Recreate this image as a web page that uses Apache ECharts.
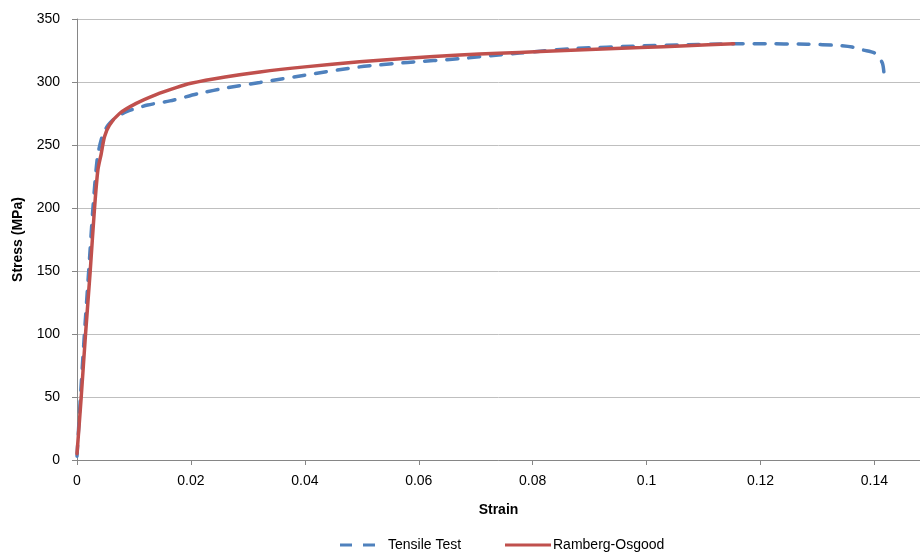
<!DOCTYPE html>
<html>
<head>
<meta charset="utf-8">
<script src="https://cdn.jsdelivr.net/npm/echarts@6/dist/echarts.min.js"></script>
<style>
html,body{margin:0;padding:0;background:#fff;}
#chart{width:920px;height:554px;}
</style>
</head>
<body>
<div id="chart"></div>
<script>
// Tensile Test (strain, stress MPa)
const tensileStrain = [0, 0.0006, 0.0013, 0.0021, 0.0028, 0.0036, 0.0045, 0.0055, 0.0066, 0.0087, 0.0124, 0.0163, 0.0215, 0.0265, 0.0321, 0.0409, 0.0496, 0.0580, 0.0672, 0.0740, 0.0813, 0.0871, 0.0989, 0.1070, 0.1153, 0.1200, 0.1282, 0.1335, 0.1361, 0.1380, 0.1402, 0.1414, 0.1417];
const tensileStress = [3, 50, 100, 153, 200, 240.6, 258, 266, 271, 276.5, 281.7, 285, 291, 295.5, 299.6, 306, 312, 315.5, 318.5, 321.5, 324.4, 326.5, 328.6, 329.6, 330.3, 330.3, 330, 329, 327.7, 325.4, 322.6, 314.9, 305.6];

// Ramberg-Osgood fit (strain, stress MPa)
const roStrain = [0, 0.00074, 0.0015, 0.00232, 0.00308, 0.00366, 0.00425, 0.00483, 0.00571, 0.00747, 0.0104, 0.0139, 0.0174, 0.0200, 0.0260, 0.0321, 0.0400, 0.0496, 0.0580, 0.0672, 0.0740, 0.0813, 0.0900, 0.0989, 0.1070, 0.1153];
const roStress = [5, 50, 100, 150, 200, 230, 243, 256.5, 265.8, 275, 283, 290, 295.5, 299, 304, 308, 312, 316, 318.8, 321.4, 322.8, 324.2, 325.8, 327.3, 328.8, 330.3];

const xTicks = [0, 0.02, 0.04, 0.06, 0.08, 0.1, 0.12, 0.14];
const yTicks = [0, 50, 100, 150, 200, 250, 300, 350];

const seriesNames = ['Tensile Test', 'Ramberg-Osgood'];

const zip = (a, b) => a.map((v, i) => [v, b[i]]);
const FONT = 'Liberation Sans';

const chart = echarts.init(document.getElementById('chart'), null, {renderer: 'canvas'});
chart.setOption({
  animation: false,
  backgroundColor: '#ffffff',
  textStyle: {fontFamily: FONT},
  grid: {left: 77, right: 0, top: 19, bottom: 94, containLabel: false},
  xAxis: {
    type: 'value', min: 0, max: 0.148, interval: 0.02,
    name: 'Strain', nameLocation: 'middle', nameGap: 43,
    nameTextStyle: {fontFamily: FONT, fontSize: 14, fontWeight: 'bold', color: '#000'},
    axisLine: {show: true, lineStyle: {color: '#868686', width: 1}},
    axisTick: {show: true, length: 5, lineStyle: {color: '#868686'}},
    axisLabel: {
      margin: 14, fontSize: 14, color: '#000', fontFamily: FONT, showMaxLabel: false,
      formatter: v => (xTicks.some(t => Math.abs(t - v) < 1e-9) ? String(+v.toFixed(2)) : '')
    },
    splitLine: {show: false}
  },
  yAxis: {
    type: 'value', min: 0, max: 350, interval: 50,
    name: 'Stress (MPa)', nameLocation: 'middle', nameGap: 52, nameRotate: 90,
    nameTextStyle: {fontFamily: FONT, fontSize: 14, fontWeight: 'bold', color: '#000'},
    axisLine: {show: true, lineStyle: {color: '#868686', width: 1}},
    axisTick: {show: true, length: 5, lineStyle: {color: '#868686'}},
    axisLabel: {margin: 17, fontSize: 14, color: '#000', fontFamily: FONT,
      formatter: v => (yTicks.includes(v) ? String(v) : '')},
    splitLine: {show: true, lineStyle: {color: '#bfbfbf', width: 1}}
  },
  legend: [
    {data: [{name: seriesNames[0], icon: 'path://M0,0h12v3h-12z M23,0h12v3h-12z'}],
     left: 335, top: 533, itemWidth: 35, itemHeight: 3.5, itemGap: 10,
     itemStyle: {color: '#4F81BD'},
     textStyle: {fontFamily: FONT, fontSize: 14, color: '#000', padding: [0, 0, 0, 8]}},
    {data: [{name: seriesNames[1], icon: 'path://M0,0h46v3h-46z'}],
     left: 500, top: 533, itemWidth: 46, itemHeight: 3.5, itemGap: 10,
     itemStyle: {color: '#C0504D'},
     textStyle: {fontFamily: FONT, fontSize: 14, color: '#000', padding: [0, 0, 0, -3]}}
  ],
  series: [
    {
      name: seriesNames[0], type: 'line', data: zip(tensileStrain, tensileStress),
      symbol: 'none', smooth: 0.25, z: 2,
      lineStyle: {color: '#4F81BD', width: 3.5, type: [11, 11], cap: 'round'},
      itemStyle: {color: '#4F81BD'}
    },
    {
      name: seriesNames[1], type: 'line', data: zip(roStrain, roStress),
      symbol: 'none', smooth: 0.25, z: 3,
      lineStyle: {color: '#C0504D', width: 3.5, cap: 'round'},
      itemStyle: {color: '#C0504D'}
    }
  ]
});
</script>
</body>
</html>
